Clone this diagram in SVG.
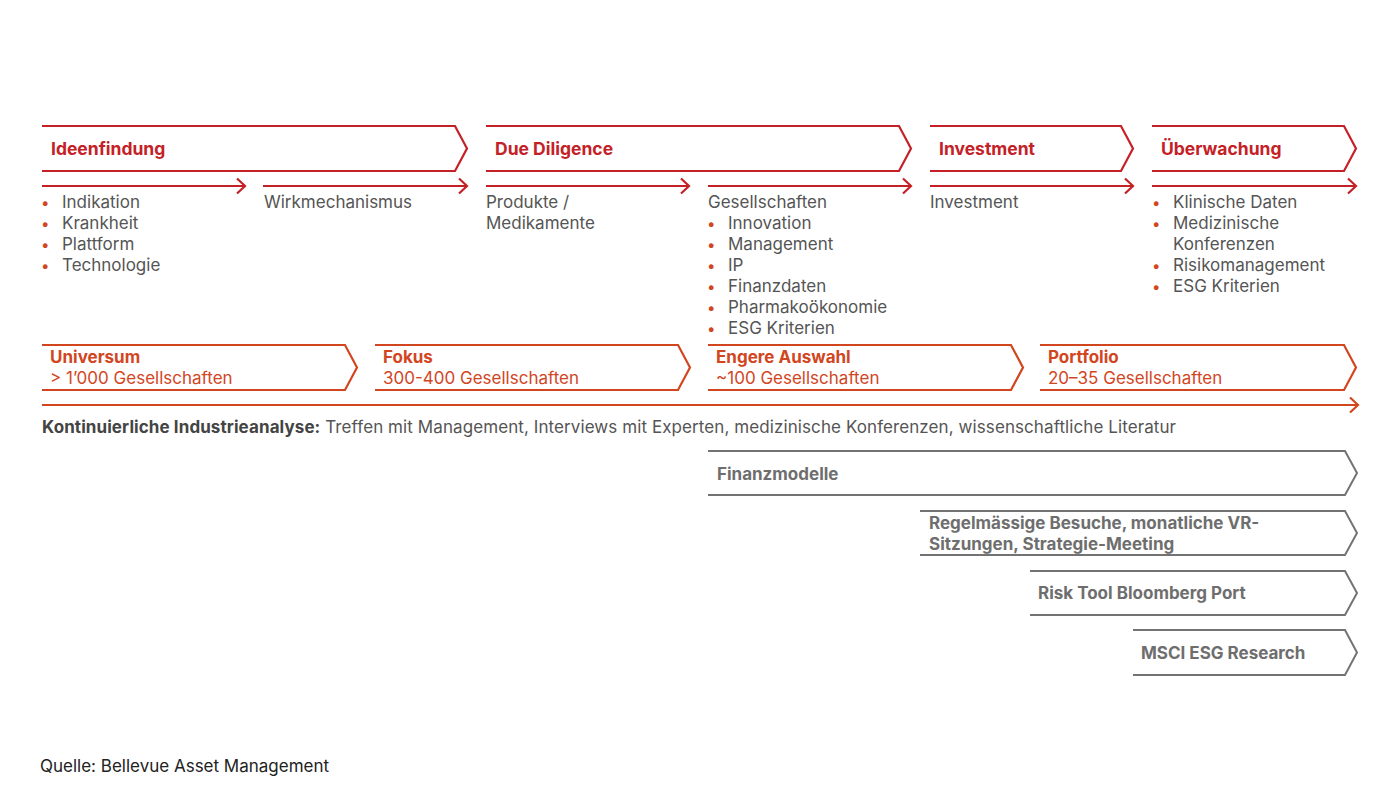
<svg xmlns="http://www.w3.org/2000/svg" width="1400" height="787" viewBox="0 0 1400 787">
<style>
.r{fill:none;stroke:#c42127;stroke-width:2.2}
.o{fill:none;stroke:#d2461f;stroke-width:2.2}
.g{fill:none;stroke:#737373;stroke-width:2}
text{font-family:Inter,"Liberation Sans",sans-serif}
.hr{font-size:17.5px;font-weight:700;fill:#c42127}
.ho{font-size:17px;font-weight:700;fill:#d2461f}
.so{font-size:17px;fill:#d2461f}
.t{font-size:17px;fill:#555}
.b{fill:#d2461f;font-size:15px}
.hg{font-size:17px;font-weight:700;fill:#6e6e6e}
</style>
<rect width="1400" height="787" fill="#fff"/>
<g id="phases">
<g id="ideenfindung"><path class="r" d="M42,126 H455 L467,148.5 L455,171 H42"/><text class="hr" x="51" y="155">Ideenfindung</text></g>
<g id="duediligence"><path class="r" d="M486,126 H899 L911,148.5 L899,171 H486"/><text class="hr" x="495" y="155">Due Diligence</text></g>
<g id="investment"><path class="r" d="M930,126 H1121 L1133,148.5 L1121,171 H930"/><text class="hr" x="939" y="155">Investment</text></g>
<g id="ueberwachung"><path class="r" d="M1152,126 H1344 L1356,148.5 L1344,171 H1152"/><text class="hr" x="1161" y="155">Überwachung</text></g>
</g>
<g id="connectors">
<path class="r" d="M42,186 H244 M237,178.5 L245,186 L237,193.5"/>
<path class="r" d="M263,186 H466 M459,178.5 L467,186 L459,193.5"/>
<path class="r" d="M486,186 H688 M681,178.5 L689,186 L681,193.5"/>
<path class="r" d="M708,186 H910 M903,178.5 L911,186 L903,193.5"/>
<path class="r" d="M930,186 H1132 M1125,178.5 L1133,186 L1125,193.5"/>
<path class="r" d="M1152,186 H1355 M1348,178.5 L1356,186 L1348,193.5"/>
<path class="o" d="M42,405 H1357 M1350,397.5 L1358,405 L1350,412.5"/>
</g>
<g id="step-texts">
<g id="ideen-list">
<text class="b" x="41" y="208">•</text><text class="t" x="62" y="208">Indikation</text>
<text class="b" x="41" y="229">•</text><text class="t" x="62" y="229">Krankheit</text>
<text class="b" x="41" y="250">•</text><text class="t" x="62" y="250">Plattform</text>
<text class="b" x="41" y="271">•</text><text class="t" x="62" y="271">Technologie</text>
</g>
<text class="t" x="264" y="208">Wirkmechanismus</text>
<text class="t" x="486" y="208">Produkte /</text>
<text class="t" x="486" y="229">Medikamente</text>
<g id="gesellschaften-list">
<text class="t" x="708" y="208">Gesellschaften</text>
<text class="b" x="707" y="229">•</text><text class="t" x="728" y="229">Innovation</text>
<text class="b" x="707" y="250">•</text><text class="t" x="728" y="250">Management</text>
<text class="b" x="707" y="271">•</text><text class="t" x="728" y="271">IP</text>
<text class="b" x="707" y="292">•</text><text class="t" x="728" y="292">Finanzdaten</text>
<text class="b" x="707" y="313">•</text><text class="t" x="728" y="313">Pharmakoökonomie</text>
<text class="b" x="707" y="334">•</text><text class="t" x="728" y="334">ESG Kriterien</text>
</g>
<text class="t" x="930" y="208">Investment</text>
<g id="ueberwachung-list">
<text class="b" x="1152" y="208">•</text><text class="t" x="1173" y="208">Klinische Daten</text>
<text class="b" x="1152" y="229">•</text><text class="t" x="1173" y="229">Medizinische</text>
<text class="t" x="1173" y="250">Konferenzen</text>
<text class="b" x="1152" y="271">•</text><text class="t" x="1173" y="271">Risikomanagement</text>
<text class="b" x="1152" y="292">•</text><text class="t" x="1173" y="292">ESG Kriterien</text>
</g>
</g>
<g id="funnel">
<g id="universum"><path class="o" d="M42,345 H345 L357,367.5 L345,390 H42"/><text class="ho" x="50" y="363">Universum</text><text class="so" x="50" y="384">&gt; 1’000 Gesellschaften</text></g>
<g id="fokus"><path class="o" d="M375,345 H678 L690,367.5 L678,390 H375"/><text class="ho" x="383" y="363">Fokus</text><text class="so" x="383" y="384">300-400 Gesellschaften</text></g>
<g id="engere"><path class="o" d="M708,345 H1011 L1023,367.5 L1011,390 H708"/><text class="ho" x="716" y="363">Engere Auswahl</text><text class="so" x="716" y="384">~100 Gesellschaften</text></g>
<g id="portfolio"><path class="o" d="M1040,345 H1344 L1356,367.5 L1344,390 H1040"/><text class="ho" x="1048" y="363">Portfolio</text><text class="so" x="1048" y="384">20–35 Gesellschaften</text></g>
</g>
<text class="t" x="42" y="433" textLength="1134" lengthAdjust="spacing"><tspan font-weight="700" fill="#444">Kontinuierliche Industrieanalyse:</tspan> Treffen mit Management, Interviews mit Experten, medizinische Konferenzen, wissenschaftliche Literatur</text>
<g id="tools">
<g id="finanzmodelle"><path class="g" d="M708,451 H1345 L1357,473 L1345,495 H708"/><text class="hg" x="717" y="480">Finanzmodelle</text></g>
<g id="besuche"><path class="g" d="M920,511 H1345 L1357,533 L1345,555 H920"/><text class="hg" x="929" y="529">Regelmässige Besuche, monatliche VR-</text><text class="hg" x="929" y="550">Sitzungen, Strategie-Meeting</text></g>
<g id="risktool"><path class="g" d="M1030,571 H1345 L1357,593 L1345,615 H1030"/><text class="hg" x="1038" y="599">Risk Tool Bloomberg Port</text></g>
<g id="msci"><path class="g" d="M1133,630 H1345 L1357,652.5 L1345,675 H1133"/><text class="hg" x="1141" y="659">MSCI ESG Research</text></g>
</g>
<text x="40" y="772" font-size="17" fill="#222">Quelle: Bellevue Asset Management</text>
</svg>
